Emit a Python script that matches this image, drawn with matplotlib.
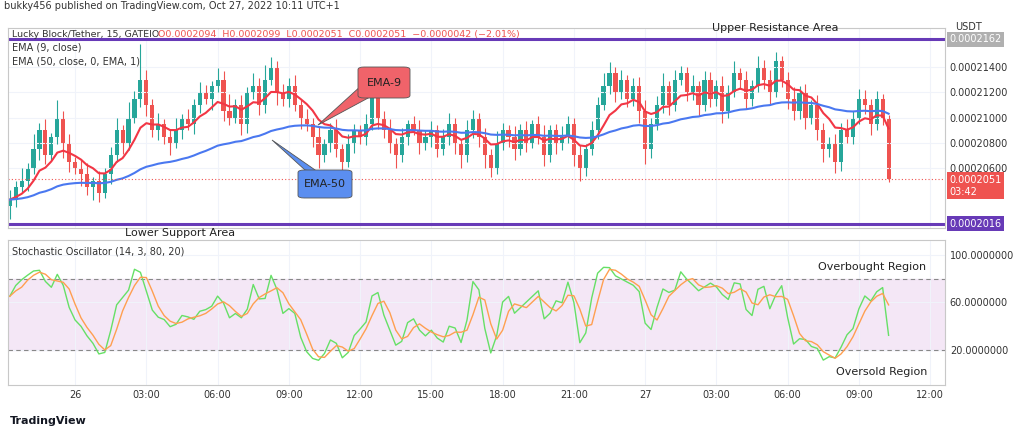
import matplotlib
matplotlib.use("Agg")
import matplotlib.pyplot as plt
import numpy as np
import pandas as pd
from matplotlib.patches import FancyBboxPatch, Polygon

# ---- data (price in units of 1e-7) ----
closes = [2035, 2045, 2050, 2060, 2075, 2090, 2070, 2085, 2100, 2080, 2065,
          2060, 2055, 2045, 2050, 2040, 2055, 2070, 2090, 2080, 2100, 2115, 2130,
          2110, 2090, 2095, 2085, 2080, 2090, 2100, 2095, 2110, 2120, 2115, 2125,
          2130, 2105, 2100, 2110, 2095, 2120, 2125, 2110, 2130, 2140, 2120, 2115,
          2125, 2110, 2100, 2095, 2085, 2070, 2080, 2090, 2075, 2065, 2080, 2090,
          2085, 2095, 2120, 2100, 2090, 2080, 2070, 2085, 2095, 2090, 2080, 2085,
          2090, 2075, 2085, 2095, 2080, 2070, 2090, 2100, 2085, 2070, 2060, 2080,
          2090, 2085, 2075, 2090, 2080, 2095, 2085, 2070, 2090, 2080, 2085, 2095,
          2070, 2060, 2075, 2090, 2110, 2125, 2135, 2120, 2130, 2115, 2125, 2105,
          2075, 2095, 2110, 2125, 2110, 2130, 2135, 2120, 2125, 2110, 2130, 2115,
          2125, 2105, 2120, 2135, 2130, 2115, 2125, 2140, 2130, 2120, 2145, 2130,
          2115, 2105, 2120, 2100, 2110, 2090, 2075, 2080, 2065, 2090, 2085, 2100,
          2115, 2110, 2095, 2115, 2100, 2051]
first_open = 2030
upper_wick = [8, 5, 10, 4, 12, 6, 9, 3, 14, 5, 7,
              4, 6, 9, 3, 8, 5, 7, 10, 4, 12, 6, 28,
              8, 5, 9, 4, 6, 10, 3, 7, 5, 8, 6, 4,
              9, 7, 14, 5, 8, 4, 10, 6, 12, 8, 5, 7,
              6, 9, 4, 7, 5, 8, 3, 6, 9, 4, 7, 5,
              4, 8, 15, 6, 5, 9, 4, 7, 3, 6, 8, 5,
              7, 4, 6, 9, 5, 3, 8, 6, 4, 7, 5, 9,
              6, 4, 8, 5, 7, 3, 6, 9, 4, 5, 8, 6,
              5, 8, 4, 7, 6, 10, 9, 5, 8, 4, 6, 7,
              9, 5, 7, 10, 4, 8, 6, 5, 9, 4, 7, 6,
              5, 8, 6, 10, 4, 7, 5, 9, 6, 8, 7, 4,
              6, 9, 5, 7, 4, 8, 6, 5, 7, 6, 9, 5,
              8, 7, 5, 6, 4, 2]
lower_wick = [10, 6, 4, 8, 5, 9, 7, 4, 6, 12, 8,
              5, 9, 6, 10, 7, 4, 8, 5, 9, 6, 4, 7,
              9, 5, 8, 6, 10, 4, 7, 5, 8, 6, 4, 9,
              5, 8, 6, 4, 9, 7, 5, 8, 6, 4, 10, 6,
              7, 5, 9, 6, 8, 10, 5, 7, 6, 9, 4, 8,
              6, 7, 5, 9, 6, 8, 10, 5, 7, 4, 9, 6,
              8, 6, 5, 7, 9, 10, 5, 6, 8, 10, 7, 5,
              6, 8, 9, 5, 7, 4, 6, 8, 5, 9, 6, 5,
              8, 10, 6, 5, 7, 4, 6, 8, 5, 7, 6, 9,
              12, 7, 5, 6, 8, 5, 4, 7, 6, 9, 5, 7,
              6, 9, 5, 4, 7, 8, 6, 5, 7, 9, 4, 6,
              8, 7, 6, 9, 5, 8, 10, 6, 9, 7, 5, 6,
              5, 7, 9, 5, 6, 2]
tick_labels = ["26", "03:00", "06:00", "09:00", "12:00", "15:00", "18:00",
               "21:00", "27", "03:00", "06:00", "09:00", "12:00"]
price_ticks = [2060, 2080, 2100, 2120, 2140]
stoch_ticks = [20, 60, 100]

UP, DN = "#26a69a", "#ef5350"
c = np.array(closes, float)
o = np.concatenate([[first_open], c[:-1]])
h = np.maximum(o, c) + np.array(upper_wick)
l = np.minimum(o, c) - np.array(lower_wick)
n = len(c)
x = np.arange(n)
s = pd.Series(c)
ema9 = s.ewm(span=9, adjust=False).mean()
ema50 = s.ewm(span=50, adjust=False).mean()
hh = pd.Series(h).rolling(14, min_periods=1).max()
ll = pd.Series(l).rolling(14, min_periods=1).min()
rawk = 100 * (s - ll) / (hh - ll)
k = rawk.rolling(2, min_periods=1).mean()
d = k.rolling(3, min_periods=1).mean()

fig = plt.figure(figsize=(10.24, 4.37), dpi=100)
fig.patch.set_facecolor("white")
W, H = 1024, 437
def fx(px): return px / W
def fy(py): return 1 - py / H

ax = fig.add_axes([fx(8), fy(228), fx(937), fy(28) - fy(228)])
ax2 = fig.add_axes([fx(8), fy(385), fx(937), fy(240) - fy(385)], sharex=ax)
ax.set_xlim(-0.3, 157.5)
ax.set_ylim(2012.5, 2171)
ax2.set_ylim(-9.5, 112.6)
tick_pos = [11 + 12 * i for i in range(len(tick_labels))]

for a in (ax, ax2):
    a.set_facecolor("white")
    for sp in a.spines.values():
        sp.set_color("#c8c8c8"); sp.set_linewidth(0.8)
    a.grid(True, color="#f0f3fa", lw=0.8)
    a.set_xticks(tick_pos)
    a.yaxis.tick_right()
    a.tick_params(length=0, labelsize=7, colors="#333333")
ax.tick_params(labelbottom=False)
ax2.set_xticklabels(tick_labels)
ax.set_yticks(price_ticks)
ax.set_yticklabels([f"0.000{v}0" for v in price_ticks])
ax2.set_yticks(stoch_ticks)
ax2.set_yticklabels([f"{v}.0000000" for v in stoch_ticks])

# candles
for i in range(n):
    col = UP if c[i] >= o[i] else DN
    ax.vlines(x[i], l[i], h[i], color=col, lw=0.8)
    ax.bar(x[i], max(abs(c[i] - o[i]), 0.6), bottom=min(o[i], c[i]), width=0.7, color=col)
ax.plot(x, ema9, color="#f23645", lw=1.5)
ax.plot(x, ema50, color="#4a78f0", lw=1.5)
ax.axhline(2162, color="#673ab7", lw=2.2)
ax.axhline(2016, color="#673ab7", lw=2.2)
ax.axhline(c[-1], color=DN, lw=0.8, ls=(0, (1, 2)))

# right labels
yt = ax.get_yaxis_transform()
ax.text(1.005, 2162, "0.0002162", transform=yt, fontsize=7, va="center",
        color="white", bbox=dict(boxstyle="square,pad=0.25", fc="#b0b0b0", ec="none"))
ax.text(1.005, 2016, "0.0002016", transform=yt, fontsize=7, va="center",
        color="white", bbox=dict(boxstyle="square,pad=0.25", fc="#673ab7", ec="none"))
ax.text(1.005, c[-1] - 5, "0.0002051\n03:42", transform=yt, fontsize=7,
        va="center", color="white", linespacing=1.2,
        bbox=dict(boxstyle="square,pad=0.25", fc=DN, ec="none"))
fig.text(fx(955), fy(30), "USDT", fontsize=7, color="#333333")

# header
fig.text(fx(4), fy(9), "bukky456 published on TradingView.com, Oct 27, 2022 10:11 UTC+1", fontsize=7, color="#333333")
fig.text(fx(12), fy(37), "Lucky Block/Tether, 15, GATEIO", fontsize=6.8, color="#333333")
fig.text(fx(158), fy(37), "O0.0002094  H0.0002099  L0.0002051  C0.0002051  −0.0000042 (−2.01%)",
         fontsize=6.8, color=DN)
fig.text(fx(12), fy(50), "EMA (9, close)", fontsize=7, color="#333333")
fig.text(fx(12), fy(64), "EMA (50, close, 0, EMA, 1)", fontsize=7, color="#333333")
fig.text(fx(712), fy(31), "Upper Resistance Area", fontsize=8, color="#222222")
fig.text(fx(125), fy(236), "Lower Support Area", fontsize=8, color="#222222")

# callouts
def callout(bx, by, bw, bh, tip, base, fc, label):
    poly = Polygon([(fx(p[0]), fy(p[1])) for p in [tip] + base], closed=True,
                   transform=fig.transFigure, fc=fc, ec="#555555", lw=0.6)
    fig.add_artist(poly)
    box = FancyBboxPatch((fx(bx), fy(by + bh)), fx(bw), fy(by) - fy(by + bh),
                         boxstyle="round,pad=0,rounding_size=0.006", transform=fig.transFigure,
                         fc=fc, ec="#555555", lw=0.6)
    fig.add_artist(box)
    fig.text(fx(bx + bw / 2), fy(by + bh / 2), label, ha="center", va="center", fontsize=8, color="#222222")
callout(358, 67, 52, 31, (318, 125), [(362, 85), (370, 97)], "#f0636a", "EMA-9")
callout(298, 170, 54, 28, (272, 140), [(305, 170), (318, 172)], "#5b8ef0", "EMA-50")

# stochastic
ax2.axhspan(20, 80, color="#f3e5f5", alpha=0.9)
ax2.axhline(80, color="#888888", lw=0.8, ls=(0, (4, 3)))
ax2.axhline(20, color="#888888", lw=0.8, ls=(0, (4, 3)))
ax2.plot(x, k, color="#66e066", lw=1.0)
ax2.plot(x, d, color="#ff9f50", lw=1.0)
fig.text(fx(12), fy(254), "Stochastic Oscillator (14, 3, 80, 20)", fontsize=7, color="#333333")
fig.text(fx(818), fy(270), "Overbought Region", fontsize=8, color="#222222")
fig.text(fx(836), fy(375), "Oversold Region", fontsize=8, color="#222222")
fig.text(fx(10), fy(424), "TradingView", fontsize=8, color="#131722", weight="bold")

fig.savefig("out.png", dpi=100)
